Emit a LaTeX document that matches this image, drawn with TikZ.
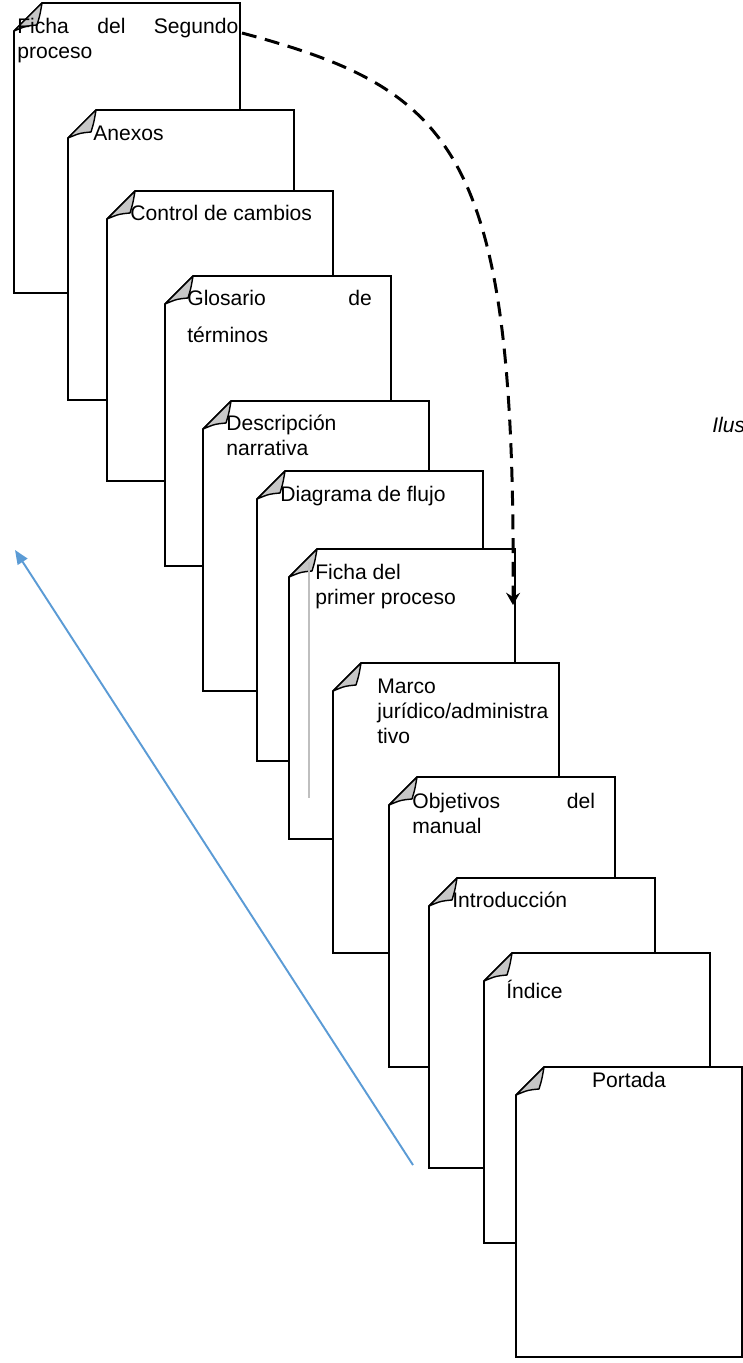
\documentclass[tikz,border=0pt]{standalone}
\usepackage{fontspec}
\setmainfont{Liberation Sans}
\usetikzlibrary{arrows.meta}
\definecolor{azulflecha}{RGB}{91,155,213}
% una hoja con la esquina doblada, #1 = x izquierda, #2 = y arriba
\newcommand{\hoja}[2]{%
  \draw[borde] (#1+28,#2) -- ++(198,0) -- ++(0,290) -- ++(-226,0) -- ++(0,-262) -- cycle;
  \draw[pliegue] (#1,#2+28) -- (#1+28,#2) .. controls (#1+26,#2+12) .. (#1+23,#2+22) .. controls (#1+12,#2+23) .. cycle;
}
\begin{document}
\begin{tikzpicture}[x=0.02cm,y=-0.02cm,
    borde/.style={draw=black,fill=white,line width=0.95pt},
    pliegue/.style={draw=black,fill=black!22,line width=0.8pt,line join=round},
    rotulo/.style={inner sep=0pt,anchor=base west,align=left,font=\fontsize{12}{14.2}\selectfont}]
    \useasboundingbox (0,0) rectangle (743,1363);
    % las de varias lineas van por la base de la ultima linea
    \hoja{14}{3} \node[rotulo] (segundo) at (17,58) {\makebox[125.8pt][s]{Ficha del Segundo}\\proceso}; %Hoja 1
    \hoja{68}{110} \node[rotulo] (anexos) at (93,140) {Anexos};
    \hoja{107}{191} \node[rotulo] (control) at (130,220) {Control de cambios};
    \hoja{165}{276} \node[rotulo] (glosario) at (187,342) {\makebox[105pt][s]{Glosario de}\\[6.8pt]términos};
    \hoja{203}{401} \node[rotulo] (descripcion) at (226,455) {Descripción\\narrativa};
    \hoja{257}{471} \node[rotulo] (diagrama) at (280,501) {Diagrama de flujo};
    \hoja{289}{549} \node[rotulo] (primer) at (315,604) {Ficha del\\primer proceso};
    \draw[black!25,line width=0.6pt] (309,562) -- (309,798); %Trazo gris
    \hoja{333}{663} \node[rotulo] (marco) at (377,743) {Marco\\jurídico/administra\\tivo};
    \hoja{389}{777} \node[rotulo] (objetivos) at (412,833) {\makebox[104pt][s]{Objetivos del}\\manual};
    \hoja{429}{878} \node[rotulo] (intro) at (452,907) {Introducción};
    \hoja{484}{953} \node[rotulo] (indice) at (506,998) {Índice};
    \hoja{516}{1067} \node[rotulo,anchor=base] (portada) at (629,1087) {Portada}; %Hoja de delante
    \node[rotulo,font=\fontsize{12}{14.2}\selectfont\itshape] (ilus) at (712,432) {Ilus};
    % flechas
    \coordinate (ini) at (242,33);
    \coordinate (fin) at (513,605);
    \draw[line width=1.7pt,dash pattern=on 8.5pt off 5pt,-{Stealth[length=7pt,width=8pt,inset=2.5pt]}]
        (ini) .. controls (455,90) and (516,150) .. (fin);
    \coordinate (base) at (413,1165);
    \coordinate (punta) at (15,550);
    \draw[azulflecha,line width=1.1pt,-{Triangle[length=8pt,width=6.5pt]}] (base) -- (punta);
\end{tikzpicture}
\end{document}
